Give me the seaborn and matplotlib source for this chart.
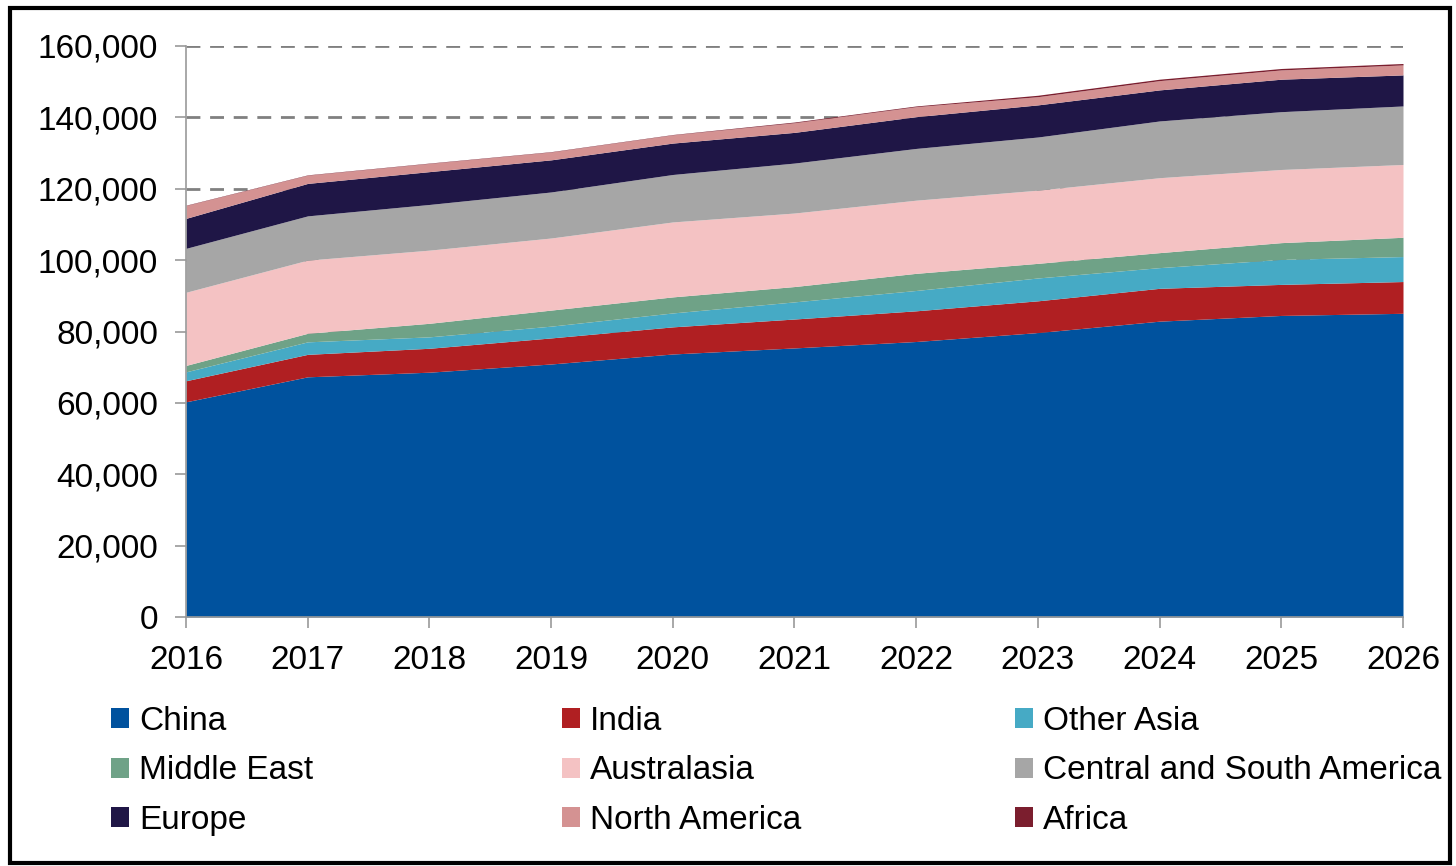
import pandas as pd
import matplotlib.pyplot as plt
import seaborn as sns
from matplotlib.patches import Patch, Rectangle
from matplotlib.ticker import FuncFormatter

# data
years = [2016, 2017, 2018, 2019, 2020, 2021, 2022, 2023, 2024, 2025, 2026]
china = [60300, 67300, 68600, 70900, 73700, 75400, 77200, 79700, 82900, 84500, 85100]
india = [5900, 6300, 6700, 7300, 7600, 8100, 8600, 8900, 9200, 8700, 8900]
other_asia = [2500, 3500, 3200, 3300, 3900, 4800, 5700, 6400, 5800, 7000, 7000]
middle_east = [1800, 2400, 3800, 4500, 4500, 4300, 4800, 4100, 4200, 4700, 5400]
australasia = [20500, 20500, 20500, 20200, 21000, 20600, 20500, 20500, 21000, 20500, 20400]
cs_america = [12300, 12400, 12800, 12900, 13300, 14000, 14500, 14900, 15900, 16200, 16400]
europe = [8400, 9100, 9200, 9000, 8800, 8600, 8900, 9000, 8700, 9100, 8700]
north_america = [3600, 2300, 2300, 2200, 2300, 2700, 2800, 2300, 2600, 2600, 2800]
africa = [100, 100, 100, 100, 100, 200, 200, 400, 400, 400, 400]

regions = ["China", "India", "Other Asia", "Middle East", "Australasia",
           "Central and South America", "Europe", "North America", "Africa"]
colors = ["#00529E", "#B01F22", "#46AAC5", "#6FA287", "#F4C2C3",
          "#A6A6A6", "#1F1646", "#D49292", "#7B1E2E"]

df = pd.DataFrame({
    "year": years,
    "China": china,
    "India": india,
    "Other Asia": other_asia,
    "Middle East": middle_east,
    "Australasia": australasia,
    "Central and South America": cs_america,
    "Europe": europe,
    "North America": north_america,
    "Africa": africa,
})

sns.set_style("white")
plt.rcParams['font.family'] = ['Liberation Sans', 'DejaVu Sans']
plt.rcParams['text.color'] = 'black'

fig = plt.figure(figsize=(14.56, 8.66), dpi=100)
ax = fig.add_axes([186/1456, 1 - 617/866, (1403-186)/1456, (617-46)/866])

ax.stackplot(df["year"], [df[r] for r in regions], colors=colors,
             linewidth=0, zorder=2)

ax.set_xlim(2016, 2026)
ax.set_ylim(0, 160000)
ax.set_xticks(years)
ax.set_yticks(range(0, 160001, 20000))
ax.yaxis.set_major_formatter(FuncFormatter(lambda v, p: f"{int(v):,}"))
ax.grid(axis="y", color="#808080", linestyle=(0, (5, 3.5)), linewidth=2, zorder=0)
ax.set_axisbelow(True)
ax.tick_params(axis="both", labelsize=24, length=8, width=1.2,
               color="#999999", labelcolor="black", direction="out")
ax.tick_params(axis="y", pad=12)
ax.tick_params(axis="x", pad=12)
ax.tick_params(axis="both", which="both", left=True, bottom=True)
for s in ["top", "right"]:
    ax.spines[s].set_visible(False)
for s in ["left", "bottom"]:
    ax.spines[s].set_color("#999999")
    ax.spines[s].set_linewidth(1.2)

# legend: three columns placed by hand, filled row by row
col_x = [111/1456, 562/1456, 1015/1456]
for c in range(3):
    idx = [c, c + 3, c + 6]
    handles = [Patch(facecolor=colors[i], edgecolor="none") for i in idx]
    labels = [regions[i] for i in idx]
    fig.legend(handles, labels, loc="upper left", bbox_to_anchor=(col_x[c], 1 - 706/866),
               frameon=False, fontsize=24, handlelength=0.55, handleheight=0.55,
               handletextpad=0.3, labelspacing=0.55, borderaxespad=0, borderpad=0)

fig.add_artist(Rectangle((10/1456, 3/866), (1450-10)/1456, (858-3)/866,
                         transform=fig.transFigure, fill=False,
                         edgecolor="black", linewidth=3))

fig.savefig("out.png", dpi=100)
